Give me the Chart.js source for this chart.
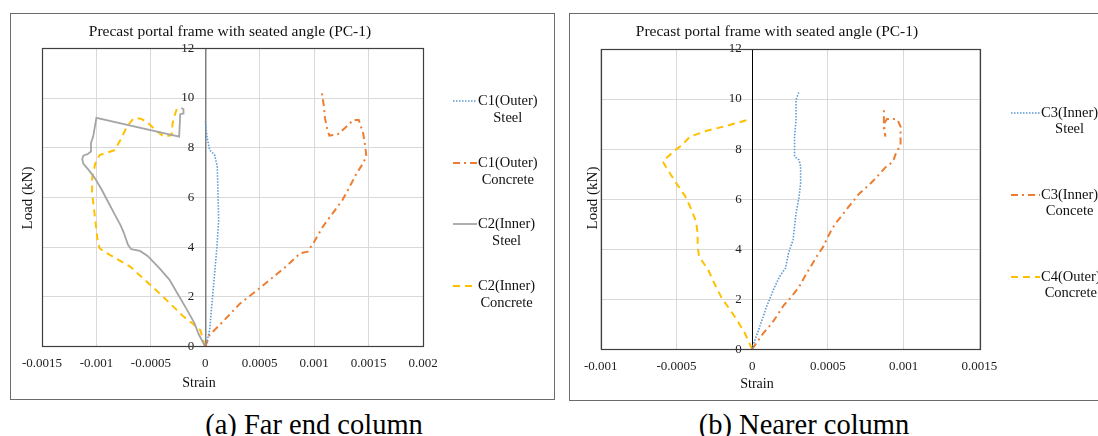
<!DOCTYPE html>
<html>
<head>
<meta charset="utf-8">
<script src="https://cdn.jsdelivr.net/npm/chart.js@4.4.1/dist/chart.umd.min.js"></script>
<style>
  html, body { margin: 0; padding: 0; background: #fff; }
  body { width: 1098px; height: 436px; overflow: hidden; position: relative; font-family: 'Liberation Serif', 'Times New Roman', serif; }
  .box { position: absolute; border: 1px solid #6b6b6b; box-sizing: border-box; background: #fff; }
  .box canvas { position: absolute; left: 0; top: 0; }
  .cap { position: absolute; font-size: 28.5px; line-height: 29px; white-space: nowrap; color: #000; transform: translateX(-50%); }
</style>
</head>
<body>
<div class="box" style="left:10px; top:13px; width:545px; height:387px;"><canvas id="chartA" width="543" height="385"></canvas></div>
<div class="box" style="left:569px; top:13px; width:540px; height:388px;"><canvas id="chartB" width="538" height="386"></canvas></div>
<div class="cap" style="left:314px; top:410px;">(a) Far end column</div>
<div class="cap" style="left:804px; top:410px;">(b) Nearer column</div>
<script>
// ---------- shared labels ----------
const chartTitle = 'Precast portal frame with seated angle (PC-1)';
const xAxisTitle = 'Strain';
const yAxisTitle = 'Load (kN)';
const yTickLabels = ['0', '2', '4', '6', '8', '10', '12'];
const xTickLabelsA = ['-0.0015', '-0.001', '-0.0005', '0', '0.0005', '0.001', '0.0015', '0.002'];
const xTickLabelsB = ['-0.001', '-0.0005', '0', '0.0005', '0.001', '0.0015'];

// ---------- (a) Far end column ----------
const labelsA = [['C1(Outer)', 'Steel'], ['C1(Outer)', 'Concrete'], ['C2(Inner)', 'Steel'], ['C2(Inner)', 'Concrete']];

const strainA_C1Steel = [0, 0.00002, 0.00004, 0.000064, 0.000086, 0.000107, 0.000123, 0.000116, 0.00011, 0.000086, 0.00004, 0.000015, 0];
const loadA_C1Steel   = [0, 0.3, 0.67, 1.88, 2.95, 4.02, 5.09, 6.3, 7.24, 7.71, 7.91, 8.45, 9.05];

const strainA_C1Conc = [0, 0.00004, 0.00016, 0.00032, 0.00048, 0.00061, 0.00074, 0.00087, 0.00094, 0.001, 0.00108, 0.00117, 0.00126, 0.00131, 0.00139, 0.00143, 0.00148, 0.00147, 0.00145, 0.00141, 0.00136, 0.00128, 0.00122, 0.00114, 0.00112, 0.0011, 0.00109, 0.00107];
const loadA_C1Conc   = [0, 0.47, 1.0, 1.74, 2.28, 2.75, 3.22, 3.75, 3.82, 4.22, 4.83, 5.36, 5.9, 6.3, 6.97, 7.24, 7.64, 8.04, 8.58, 9.12, 9.12, 8.78, 8.55, 8.49, 8.74, 9.18, 9.65, 10.25];

const strainA_C2Steel = [0, -0.00006, -0.0001, -0.00017, -0.00025, -0.00033, -0.00042, -0.00053, -0.0006, -0.00068, -0.00071, -0.00075, -0.00078, -0.00083, -0.00089, -0.00095, -0.00101, -0.00107, -0.00112, -0.00113, -0.00112, -0.00108, -0.00105, -0.00105, -0.00103, -0.00102, -0.001, -0.00024, -0.00023, -0.0002, -0.0002, -0.00022];
const loadA_C2Steel   = [0, 0.5, 0.95, 1.5, 2.1, 2.7, 3.15, 3.65, 3.85, 3.92, 4.1, 4.6, 4.9, 5.3, 5.8, 6.3, 6.75, 7.1, 7.35, 7.55, 7.68, 7.75, 7.85, 8.2, 8.45, 8.7, 9.2, 8.45, 9.35, 9.38, 9.55, 9.6];

const strainA_C2Conc = [0, -0.000046, -0.00012, -0.0002, -0.00026, -0.00047, -0.00069, -0.0009, -0.00097, -0.00099, -0.00101, -0.00104, -0.00104, -0.00101, -0.00097, -0.00083, -0.00078, -0.00072, -0.00066, -0.0006, -0.00054, -0.00044, -0.00038, -0.00031, -0.0003, -0.00028, -0.00026];
const loadA_C2Conc   = [0, 0.67, 0.94, 1.21, 1.47, 2.35, 3.22, 3.75, 3.95, 4.29, 5.09, 6.17, 6.77, 7.37, 7.71, 7.91, 8.31, 8.85, 9.18, 9.18, 9.05, 8.65, 8.45, 8.51, 8.98, 9.32, 9.58];

// ---------- (b) Nearer column ----------
const labelsB = [['C3(Inner)', 'Steel'], ['C3(Inner)', 'Concete'], ['C4(Outer)', 'Concrete']];

const strainB_C3Steel = [0, 0.0000066, 0.00005, 0.000095, 0.00014, 0.00018, 0.00022, 0.00024, 0.00027, 0.00029, 0.00031, 0.00032, 0.00032, 0.00031, 0.00028, 0.00028, 0.00028, 0.00029, 0.00029, 0.00029, 0.00031];
const loadB_C3Steel   = [0, 0.17, 0.9, 1.7, 2.37, 2.9, 3.24, 3.84, 4.37, 5.44, 6.1, 6.64, 7.3, 7.57, 7.7, 8.1, 8.5, 9.17, 9.57, 9.97, 10.3];

const strainB_C3Conc = [0, 0.000073, 0.00013, 0.00016, 0.00021, 0.00026, 0.00031, 0.00036, 0.0004, 0.00044, 0.00047, 0.00049, 0.00053, 0.00056, 0.00063, 0.00071, 0.00076, 0.00081, 0.00088, 0.00093, 0.00095, 0.00098, 0.00098, 0.00098, 0.00096, 0.00094, 0.00089, 0.00087, 0.00088, 0.00087, 0.00087];
const loadB_C3Conc   = [0, 0.64, 1.04, 1.3, 1.77, 2.1, 2.5, 3.04, 3.44, 3.84, 4.1, 4.37, 4.84, 5.1, 5.64, 6.24, 6.5, 6.8, 7.27, 7.5, 7.84, 8.17, 8.5, 8.9, 9.17, 9.2, 9.2, 9.0, 8.5, 8.8, 9.6];

const strainB_C4Conc = [0, -0.000048, -0.0001, -0.00016, -0.0002, -0.00025, -0.00029, -0.00035, -0.00036, -0.00036, -0.00037, -0.0004, -0.00044, -0.0005, -0.00055, -0.00059, -0.00051, -0.00047, -0.00041, -0.0003, -0.00015, -0.00001];
const loadB_C4Conc   = [0, 0.64, 1.17, 1.7, 2.04, 2.64, 3.17, 3.7, 4.1, 4.63, 5.1, 5.57, 6.1, 6.63, 7.1, 7.5, 7.96, 8.12, 8.5, 8.73, 8.96, 9.2];

// ---------- styles ----------
const STYLE = {
  steelBlue:  { borderColor: '#5b9bd5', borderWidth: 1.6, borderDash: [1.5, 1.5] },
  concOrange: { borderColor: '#ed7d31', borderWidth: 2,   borderDash: [7, 4, 2, 4] },
  steelGray:  { borderColor: '#a5a5a5', borderWidth: 1.8, borderDash: [] },
  concYellow: { borderColor: '#ffc000', borderWidth: 2,   borderDash: [7, 5] }
};
const SERIF = "'Liberation Serif', 'Times New Roman', serif";

function pts(xs, ys) { return xs.map((x, i) => ({ x: x, y: ys[i] })); }
function ds(label, xs, ys, style) {
  return Object.assign({ label: label, data: pts(xs, ys), showLine: true, fill: false, pointRadius: 0, pointHoverRadius: 0, tension: 0 }, style);
}

// plugin: y tick labels beside the zero line, plot frame, titles and legend
const decorPlugin = {
  id: 'decor',
  beforeDatasetsDraw(chart, args, o) {
    const ctx = chart.ctx, xs = chart.scales.x, ys = chart.scales.y;
    const x0 = xs.getPixelForValue(0) - o.yTickGap;
    ctx.save();
    ctx.font = '13px ' + SERIF;
    ctx.fillStyle = '#222';
    ctx.textAlign = 'right';
    ctx.textBaseline = 'middle';
    ys.ticks.forEach((t, i) => {
      ctx.fillText(yTickLabels[i], x0, ys.getPixelForValue(t.value));
    });
    ctx.restore();
  },
  afterDraw(chart, args, o) {
    const ctx = chart.ctx, a = chart.chartArea;
    ctx.save();
    ctx.strokeStyle = o.frameColor;
    ctx.lineWidth = 1.2;
    ctx.setLineDash([]);
    ctx.strokeRect(Math.round(a.left) + 0.5, Math.round(a.top) + 0.5, Math.round(a.right - a.left), Math.round(a.bottom - a.top));
    ctx.fillStyle = '#111';
    ctx.textBaseline = 'middle';
    ctx.textAlign = 'center';
    for (const t of o.texts) {
      ctx.save();
      ctx.font = t.font;
      ctx.translate(t.x, t.y);
      if (t.rot) ctx.rotate(t.rot);
      ctx.fillText(t.text, 0, 0);
      ctx.restore();
    }
    const L = o.legend;
    ctx.font = L.font;
    chart.data.datasets.forEach((d, i) => {
      const y = L.rows[i];
      ctx.save();
      ctx.strokeStyle = d.borderColor;
      ctx.lineWidth = d.borderWidth;
      ctx.setLineDash(d.borderDash || []);
      ctx.beginPath();
      ctx.moveTo(L.x0, y);
      ctx.lineTo(L.x1, y);
      ctx.stroke();
      ctx.restore();
      const w = ctx.measureText(d.label[0]).width;
      ctx.textAlign = 'left';
      ctx.fillText(d.label[0], L.tx, y);
      ctx.textAlign = 'center';
      ctx.fillText(d.label[1], L.tx + w / 2, y + L.gap);
    });
    ctx.restore();
  }
};

function makeChart(id, datasets, xMin, xMax, xLabels, cfg) {
  return new Chart(document.getElementById(id), {
    type: 'scatter',
    data: { datasets: datasets },
    plugins: [decorPlugin],
    options: {
      responsive: false,
      animation: false,
      events: [],
      layout: { padding: cfg.padding },
      plugins: {
        legend: { display: false },
        tooltip: { enabled: false },
        title: { display: false },
        decor: cfg.decor
      },
      scales: {
        x: {
          type: 'linear', position: 'bottom', min: xMin, max: xMax,
          afterFit: s => { s.height = cfg.xAxisHeight; },
          border: { display: false },
          grid: { color: '#d9d9d9', lineWidth: 1, drawTicks: false },
          ticks: {
            stepSize: 0.0005, autoSkip: false, maxRotation: 0, padding: cfg.xTickPad,
            color: '#222', font: { family: SERIF, size: 13 },
            callback: (v, i) => xLabels[i]
          }
        },
        y: {
          type: 'linear', position: { x: 0 }, min: 0, max: 12,
          border: { display: true, color: cfg.zeroColor, width: cfg.zeroWidth },
          grid: { color: '#d9d9d9', lineWidth: 1, drawTicks: false },
          ticks: { stepSize: 2, display: false }
        }
      }
    }
  });
}

makeChart('chartA', [
  ds(labelsA[0], strainA_C1Steel, loadA_C1Steel, STYLE.steelBlue),
  ds(labelsA[1], strainA_C1Conc, loadA_C1Conc, STYLE.concOrange),
  ds(labelsA[2], strainA_C2Steel, loadA_C2Steel, STYLE.steelGray),
  ds(labelsA[3], strainA_C2Conc, loadA_C2Conc, STYLE.concYellow)
], -0.0015, 0.002, xTickLabelsA, {
  padding: { left: 31, right: 131, top: 34.3, bottom: 0 },
  xAxisHeight: 52.3, xTickPad: 9,
  zeroColor: '#7f7f7f', zeroWidth: 1.5,
  decor: {
    yTickGap: 11,
    frameColor: '#3f3f3f',
    texts: [
      { text: chartTitle, x: 219, y: 18, font: '15.5px ' + SERIF },
      { text: xAxisTitle, x: 188, y: 369, font: '14px ' + SERIF },
      { text: yAxisTitle, x: 17.5, y: 184, font: '15px ' + SERIF, rot: -Math.PI / 2 }
    ],
    legend: { font: '14.5px ' + SERIF, x0: 442, x1: 466, tx: 467, rows: [87, 149, 210, 272], gap: 17 }
  }
});

makeChart('chartB', [
  ds(labelsB[0], strainB_C3Steel, loadB_C3Steel, STYLE.steelBlue),
  ds(labelsB[1], strainB_C3Conc, loadB_C3Conc, STYLE.concOrange),
  ds(labelsB[2], strainB_C4Conc, loadB_C4Conc, STYLE.concYellow)
], -0.001, 0.0015, xTickLabelsB, {
  padding: { left: 30.7, right: 128.7, top: 35, bottom: 0 },
  xAxisHeight: 50.7, xTickPad: 9,
  zeroColor: '#000000', zeroWidth: 1,
  decor: {
    yTickGap: 10.5,
    frameColor: '#3f3f3f',
    texts: [
      { text: chartTitle, x: 207, y: 18, font: '15.5px ' + SERIF },
      { text: xAxisTitle, x: 187, y: 370, font: '14px ' + SERIF },
      { text: yAxisTitle, x: 22.7, y: 184, font: '15px ' + SERIF, rot: -Math.PI / 2 }
    ],
    legend: { font: '14.5px ' + SERIF, x0: 441, x1: 470, tx: 471, rows: [99, 181, 263], gap: 16.5 }
  }
});
</script>
</body>
</html>
